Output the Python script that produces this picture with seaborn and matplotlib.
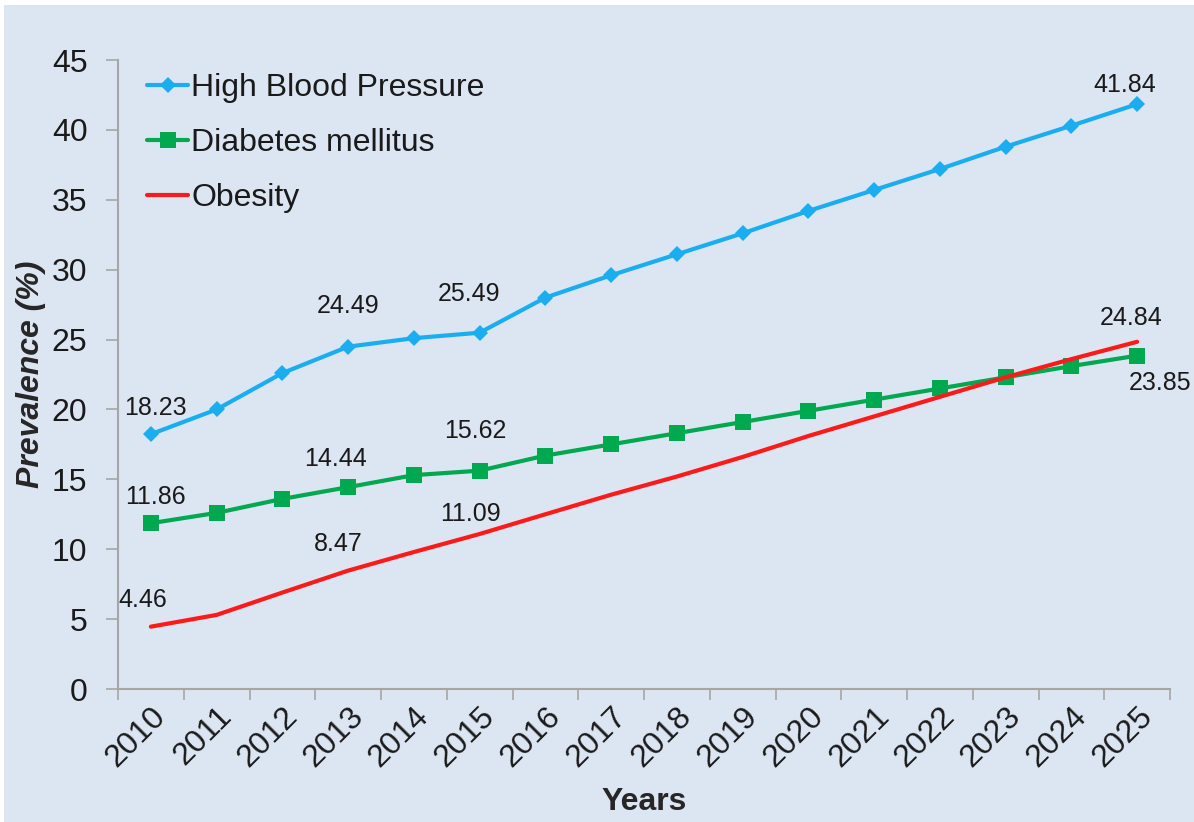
import matplotlib
matplotlib.use("Agg")
import matplotlib.pyplot as plt
from matplotlib.patches import Rectangle
from matplotlib.ticker import FixedLocator
import seaborn as sns
import pandas as pd

# data
years = [str(y) for y in range(2010, 2026)]
high_bp = [18.23, 20.0, 22.6, 24.49, 25.1, 25.49, 28.0, 29.6, 31.1, 32.6,
           34.2, 35.7, 37.2, 38.8, 40.3, 41.84]
diabetes = [11.86, 12.6, 13.6, 14.44, 15.3, 15.62, 16.7, 17.5, 18.3, 19.1,
            19.9, 20.7, 21.5, 22.3, 23.1, 23.85]
obesity = [4.46, 5.3, 6.9, 8.47, 9.8, 11.09, 12.5, 13.9, 15.2, 16.6,
           18.1, 19.5, 20.9, 22.3, 23.6, 24.84]
series_names = ["High Blood Pressure", "Diabetes mellitus", "Obesity"]

# which points carry a value label: (series, year index, x offset px, y offset px)
labels = [
    ("High Blood Pressure", 0, 5, 26), ("High Blood Pressure", 3, 0, 41),
    ("High Blood Pressure", 5, -11, 39), ("High Blood Pressure", 15, -12, 19),
    ("Diabetes mellitus", 0, 5, 26), ("Diabetes mellitus", 3, -13, 28),
    ("Diabetes mellitus", 5, -4, 40), ("Diabetes mellitus", 15, 23, -27),
    ("Obesity", 0, -8, 27), ("Obesity", 3, -10, 27),
    ("Obesity", 5, -9, 20), ("Obesity", 15, -6, 24),
]

bg = "#dce6f2"
colors = {"High Blood Pressure": "#1aaef0", "Diabetes mellitus": "#00a84f",
          "Obesity": "#ff1a1a"}
markers = {"High Blood Pressure": "D", "Diabetes mellitus": "s", "Obesity": ""}
msizes = {"High Blood Pressure": 8.5, "Diabetes mellitus": 12, "Obesity": 0}

df = pd.DataFrame({
    "Year": years * 3,
    "x": list(range(len(years))) * 3,
    "Prevalence": high_bp + diabetes + obesity,
    "Series": sum([[n] * len(years) for n in series_names], []),
})

sns.set_theme(style="white")
plt.rcParams["font.family"] = ["Liberation Sans", "DejaVu Sans"]

fig = plt.figure(figsize=(11.94, 8.22), dpi=100)
fig.patch.set_facecolor("white")
fig.add_artist(Rectangle((4 / 1194, 0), 1, 1 - 5 / 822, transform=fig.transFigure,
                         facecolor=bg, edgecolor="none", zorder=-10))
ax = fig.add_axes([118 / 1194, 1 - 689 / 822, (1170 - 118) / 1194, (689 - 60) / 822])
ax.set_facecolor(bg)

for name in series_names:
    sub = df[df["Series"] == name]
    sns.lineplot(data=sub, x="x", y="Prevalence", ax=ax, color=colors[name],
                 lw=3, marker=markers[name] or None, markersize=msizes[name],
                 markeredgewidth=0, label=name)

for name, i, dx, dy in labels:
    val = df[(df["Series"] == name) & (df["x"] == i)]["Prevalence"].iloc[0]
    ax.annotate(f"{val:.2f}", (i, val), xytext=(dx, dy), textcoords="offset pixels",
                ha="center", va="center", fontsize=18, color="#1a1a1a")

ax.set_xlim(-0.5, len(years) - 0.5)
ax.set_ylim(0, 45)
ax.set_yticks(range(0, 50, 5))
ax.set_xticks(range(len(years)))
ax.set_xticklabels(years, rotation=45, ha="right", rotation_mode="anchor")
ax.xaxis.set_minor_locator(FixedLocator([i - 0.5 for i in range(len(years) + 1)]))
ax.tick_params(axis="x", which="major", length=0, labelsize=23, pad=9, colors="#1a1a1a")
ax.tick_params(axis="x", which="minor", length=8, width=1.2, color="#a6a6a6", bottom=True)
ax.tick_params(axis="y", length=9, width=1.2, color="#a6a6a6", labelsize=23,
               pad=13, left=True, labelcolor="#1a1a1a")

for side in ["top", "right"]:
    ax.spines[side].set_visible(False)
for side in ["left", "bottom"]:
    ax.spines[side].set_color("#a6a6a6")
    ax.spines[side].set_linewidth(1.5)

ax.set_xlabel("Years", fontsize=23, fontweight="bold", labelpad=10)
ax.set_ylabel("Prevalence (%)", fontsize=23, fontweight="bold", style="italic", labelpad=4)

leg = ax.legend(loc="upper left", frameon=False, fontsize=23, handlelength=1.3,
                handletextpad=0.1, labelspacing=0.78, bbox_to_anchor=(0.0, 1.025),
                borderaxespad=0.5)
for t in leg.get_texts():
    t.set_color("#1a1a1a")

fig.savefig("out.png", dpi=100, facecolor=fig.get_facecolor())
